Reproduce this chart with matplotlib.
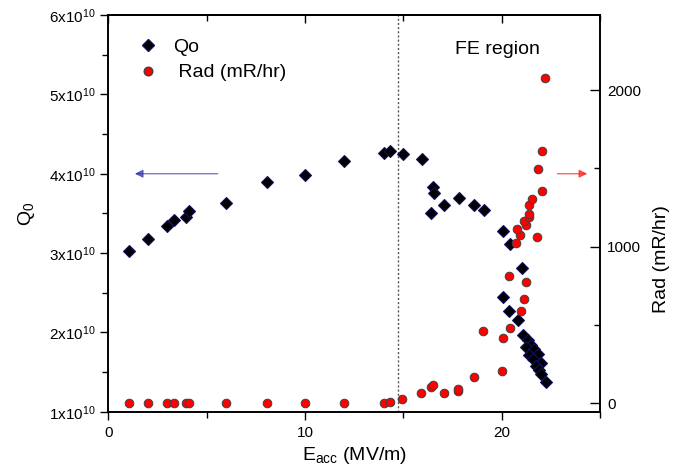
import matplotlib
matplotlib.use("Agg")
import matplotlib.pyplot as plt
from matplotlib.ticker import FixedLocator, NullFormatter
from matplotlib.lines import Line2D

plt.rcParams['font.family'] = ['Liberation Sans', 'DejaVu Sans']
plt.rcParams['mathtext.fontset'] = 'custom'
plt.rcParams['mathtext.rm'] = 'Liberation Sans'

# Qo data
E_q = [1.07, 2.0, 2.96, 3.34, 3.93, 4.11, 5.97, 8.07, 10.02, 11.98, 14.01, 14.33, 14.97,
       15.94, 16.5, 16.58, 16.42, 17.09, 17.82, 18.61, 19.09, 20.05, 20.44, 21.02, 20.05,
       20.36, 20.81, 21.07, 21.32, 21.49, 21.22, 21.66, 21.83, 21.41, 21.57, 22.0, 21.75,
       21.91, 22.0, 22.25]
Q0 = [3.02, 3.18, 3.34, 3.42, 3.45, 3.53, 3.63, 3.89, 3.99, 4.16, 4.26, 4.29, 4.25,
      4.18, 3.83, 3.76, 3.51, 3.60, 3.70, 3.60, 3.54, 3.28, 3.11, 2.81, 2.44,
      2.27, 2.15, 1.97, 1.90, 1.84, 1.82, 1.79, 1.73, 1.71, 1.66, 1.61, 1.57,
      1.53, 1.48, 1.38]  # x 1e10

# Radiation data
E_rad = [1.07, 2.0, 2.96, 3.34, 3.93, 4.1, 5.97, 8.07, 10.02, 11.96, 14.0, 14.33, 14.95,
         15.91, 16.41, 16.53, 17.06, 17.8, 17.8, 18.61, 19.03, 20.0, 20.05, 20.36, 20.43,
         20.98, 21.15, 21.24, 20.73, 21.81, 20.95, 20.78, 21.24, 21.15, 21.37, 21.37, 21.37,
         21.54, 22.03, 21.83, 22.03, 22.2]
Rad = [0, 0, 0, 0, 0, 0, 0, 0, 0, 0, 4, 7, 26,
       68, 103, 115, 64, 80, 95, 166, 464, 209, 420, 815, 484,
       592, 668, 775, 1026, 1060, 1072, 1113, 1139, 1166, 1191, 1209, 1268,
       1304, 1357, 1496, 1611, 2079]

q_ticks = [1, 2, 3, 4, 5, 6]
q_labels = [r'$\mathregular{%dx10^{10}}$' % v for v in q_ticks]

fig = plt.figure(figsize=(6.73, 4.70), dpi=100)
ax = fig.add_axes([0.161, 0.124, 0.7305, 0.844])
ax2 = ax.twinx()

ax.set_xlim(0, 25)
ax.set_ylim(1, 6)
ax2.set_ylim(-53, 2479)

ax.axvline(14.75, color='#555555', linestyle=(0, (1.5, 1.5)), linewidth=1.0, zorder=1)

ax.plot(E_q, Q0, linestyle='none', marker='D', ms=5.8, mfc='black', mec='#101060',
        mew=0.8, zorder=3)
ax2.plot(E_rad, Rad, linestyle='none', marker='o', ms=6.2, mfc='#ff0000', mec='#404040',
         mew=0.7, zorder=3)

ax.set_xticks([0, 10, 20])
ax.xaxis.set_minor_locator(FixedLocator([5, 15, 25]))
ax.set_yticks(q_ticks)
ax.set_yticklabels(q_labels)
ax.yaxis.set_minor_locator(FixedLocator([1.5, 2.5, 3.5, 4.5, 5.5]))
ax2.set_yticks([0, 1000, 2000])
ax2.yaxis.set_minor_locator(FixedLocator([500, 1500]))

ax.tick_params(axis='x', which='both', direction='out', top=False, labelsize=11, pad=4)
ax.tick_params(axis='x', which='major', length=6, width=1)
ax.tick_params(axis='x', which='minor', length=4, width=1)
ax.tick_params(axis='y', which='major', direction='out', length=6, width=1, labelsize=11, right=False)
ax.tick_params(axis='y', which='minor', direction='out', length=4, width=1, right=False)
ax2.tick_params(axis='y', which='major', direction='in', length=7, width=1, labelsize=11, pad=5)
ax2.tick_params(axis='y', which='minor', direction='in', length=4, width=1)

# top axis ticks pointing inward
topx = ax.secondary_xaxis('top')
topx.set_xticks([0, 10, 20])
topx.xaxis.set_minor_locator(FixedLocator([5, 15, 25]))
topx.xaxis.set_major_formatter(NullFormatter())
topx.tick_params(axis='x', which='major', direction='in', length=6, width=1)
topx.tick_params(axis='x', which='minor', direction='in', length=4, width=1)
topx.spines['top'].set_linewidth(1.2)

for a in (ax, ax2):
    for s in a.spines.values():
        s.set_linewidth(1.2)

ax.set_xlabel(r'E$_{\mathregular{acc}}$ (MV/m)', fontsize=14, labelpad=4)
ax.set_ylabel(r'Q$_{\mathregular{0}}$', fontsize=14, labelpad=8)
ax2.set_ylabel('Rad (mR/hr)', fontsize=14)
ax2.yaxis.set_label_coords(1.125, 0.385)
ax2.yaxis.label.set_va('center')
ax2.yaxis.label.set_ha('center')

ax.text(19.8, 5.57, 'FE region', fontsize=14, ha='center', va='center')

ax.annotate('', xy=(1.2, 4.0), xytext=(5.7, 4.0),
            arrowprops=dict(arrowstyle='-|>', color='#2020a0', lw=1.0, alpha=0.6,
                            mutation_scale=12))
ax.annotate('', xy=(24.5, 4.0), xytext=(22.7, 4.0),
            arrowprops=dict(arrowstyle='-|>', color='#ff2020', lw=1.0, alpha=0.7,
                            mutation_scale=12))

handles = [Line2D([], [], linestyle='none', marker='D', ms=5.8, mfc='black', mec='#101060'),
           Line2D([], [], linestyle='none', marker='o', ms=6.2, mfc='#ff0000', mec='#404040')]
ax2.legend(handles, ['Qo', ' Rad (mR/hr)'], loc='upper left', bbox_to_anchor=(0.025, 0.985),
           frameon=False, fontsize=14, handletextpad=0.8, labelspacing=0.4,
           handlelength=1.0)

fig.savefig('out.png', dpi=100)
